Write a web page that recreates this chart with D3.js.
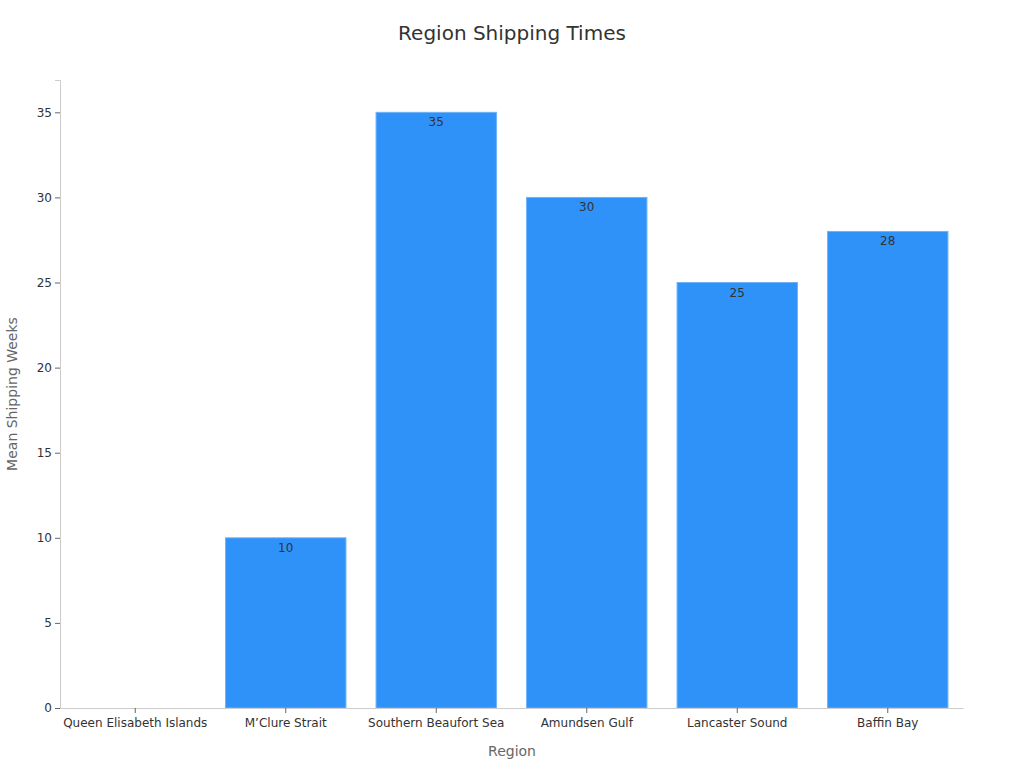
<!DOCTYPE html>
<html><head><meta charset="utf-8">
<script src="https://cdn.jsdelivr.net/npm/d3@7"></script>
<style>body{margin:0;background:#fff;font-family:"DejaVu Sans",sans-serif;}</style>
</head><body>
<svg id="c" width="1024" height="768"></svg>
<script>
const categories = ["Queen Elisabeth Islands","M\u2019Clure Strait","Southern Beaufort Sea","Amundsen Gulf","Lancaster Sound","Baffin Bay"];
const values = [0,10,35,30,25,28];
const yTicks = [0,5,10,15,20,25,30,35];

const svg = d3.select("#c");
const mLeft = 60, mRight = 963, mTop = 80, mBottom = 708;
const x = d3.scaleBand().domain(categories).range([mLeft,mRight]).paddingInner(0.2).paddingOuter(0.1);
const y = d3.scaleLinear().domain([0,36.9]).range([mBottom,mTop]);

svg.append("text").attr("x",512).attr("y",40).attr("text-anchor","middle")
  .attr("font-size",20).attr("fill","#333").text("Region Shipping Times");

svg.selectAll("rect.bar").data(values).enter().append("rect")
  .attr("class","bar")
  .attr("x",(d,i)=>x(categories[i]))
  .attr("width",x.bandwidth())
  .attr("y",d=>y(d))
  .attr("height",d=>mBottom-y(d))
  .attr("fill","#2f92f8").attr("stroke","#6fb2fa").attr("stroke-width",1)
  .style("display",d=>d>0?null:"none");

svg.selectAll("text.lbl").data(values).enter().append("text")
  .attr("class","lbl")
  .attr("x",(d,i)=>x(categories[i])+x.bandwidth()/2)
  .attr("y",d=>y(d)+14)
  .attr("text-anchor","middle").attr("font-size",12).attr("fill","#333")
  .text(d=>d>0?d:"");

const ya = svg.append("g").attr("transform",`translate(${mLeft},0)`)
  .call(d3.axisLeft(y).tickValues(yTicks).tickSize(5).tickPadding(3));
ya.select(".domain").attr("stroke","#ccc");
ya.selectAll(".tick line").attr("stroke","#666");
ya.selectAll(".tick text").attr("font-size",12).attr("fill","#333").attr("font-family","DejaVu Sans");

const xa = svg.append("g").attr("transform",`translate(0,${mBottom})`)
  .call(d3.axisBottom(x).tickSize(5).tickPadding(5).tickSizeOuter(0));
xa.select(".domain").attr("stroke","#ccc");
xa.selectAll(".tick line").attr("stroke","#666");
xa.selectAll(".tick text").attr("font-size",12).attr("fill","#333").attr("font-family","DejaVu Sans");

svg.append("text").attr("x",512).attr("y",756).attr("text-anchor","middle")
  .attr("font-size",14).attr("fill","#666").text("Region");
svg.append("text").attr("transform","translate(17,394) rotate(-90)").attr("text-anchor","middle")
  .attr("font-size",14).attr("fill","#666").text("Mean Shipping Weeks");
</script>
</body></html>
